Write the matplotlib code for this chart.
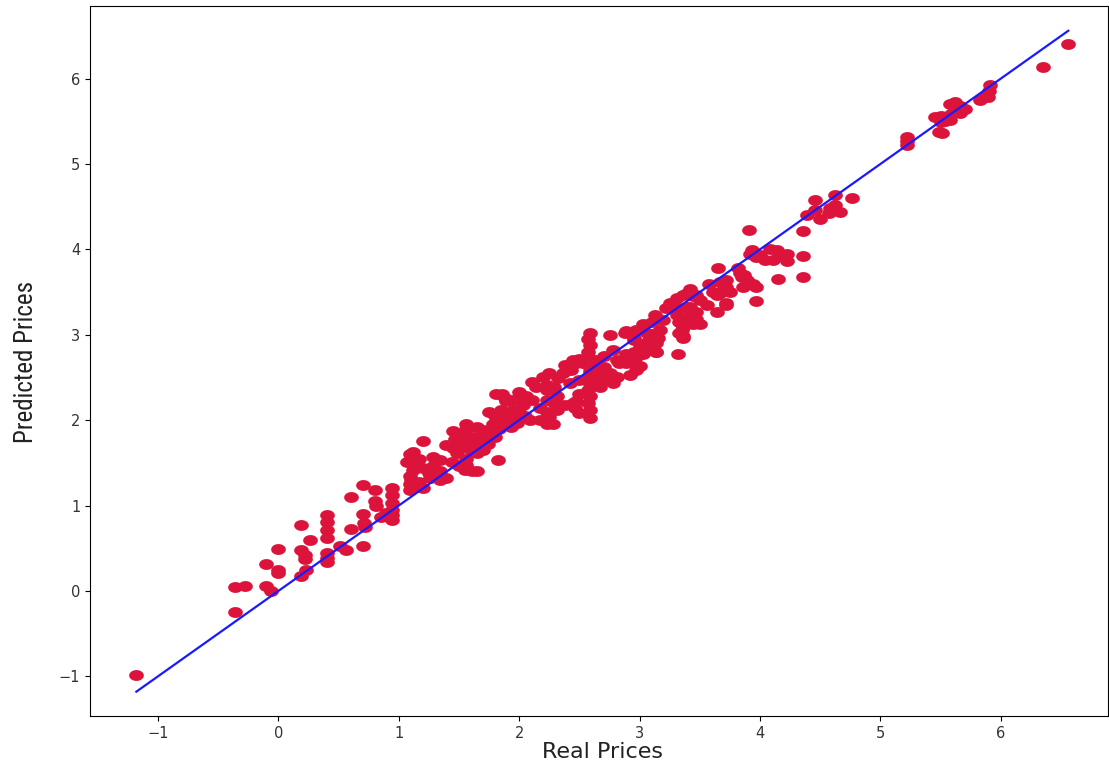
#!/usr/bin/env python3
"""Scatter of real vs predicted prices with the identity line."""

import numpy as np
import matplotlib
matplotlib.use("Agg")
import matplotlib.pyplot as plt
from matplotlib import font_manager
from matplotlib.path import Path

# values (real, predicted)
real_prices = [
    -1.18, -0.36, -0.36, -0.28, -0.10, -0.10, -0.06, 0.00, 0.00, 0.00,
    0.19, 0.19, 0.22, 0.26, 0.22, 0.19, 0.23,
    0.40, 0.40, 0.40, 0.40, 0.40, 0.40, 0.40, 0.51, 0.56, 0.60, 0.60,
    0.70, 0.70, 0.70, 0.71, 0.72, 0.80, 0.80, 0.81,
    0.94, 0.94, 0.94, 0.94, 0.94, 0.94, 0.90, 0.89, 0.85,
    1.07, 1.17, 1.28, 1.34, 1.12, 1.20, 1.28, 1.34, 1.10, 1.17, 1.26, 1.34, 1.39,
    1.13, 1.20, 1.09, 1.09, 1.09, 1.09, 1.12, 1.20, 1.25, 1.15,
    1.39, 1.45, 1.48, 1.56, 1.61, 1.65, 1.70, 1.44, 1.50, 1.55, 1.61, 1.65, 1.82,
    1.56, 1.45, 1.50, 1.65, 1.70, 1.56, 1.56, 1.56, 1.56, 1.56,
    1.81, 1.88, 2.00, 2.03,
    1.75, 1.80, 1.85, 1.90, 1.95, 2.00, 2.05, 1.78, 1.83, 1.88, 1.93, 1.98,
    1.75, 1.70, 1.74, 1.80, 1.62, 1.66, 1.52, 1.47,
    2.38, 2.43, 2.36, 2.32, 2.25, 2.20, 2.11, 2.14, 2.23, 2.29,
    2.00, 2.06, 1.95, 2.11, 2.23, 2.29, 2.38, 2.31, 2.23, 2.17,
    1.86, 1.89, 1.95, 2.00, 2.09, 2.17, 2.25, 2.28, 1.89, 1.85, 1.95,
    2.47, 2.46, 2.50, 2.50, 2.47, 2.23, 2.45, 2.53,
    2.23, 2.31, 2.34, 2.45, 2.50, 2.50, 2.42,
    2.59, 2.57, 2.59, 2.57, 2.59, 2.57, 2.59, 2.57, 2.59, 2.57, 2.59, 2.57, 2.59, 2.59,
    2.75, 2.88, 2.95, 2.78, 2.89, 2.95, 2.83, 2.97, 2.92, 2.81, 2.72,
    2.61, 2.67, 2.72, 2.78, 2.67,
    2.81, 2.89, 2.97, 3.00, 3.08, 3.14, 3.14, 3.03, 2.95,
    2.89, 2.97, 3.06, 3.14, 2.95, 3.06, 3.14, 3.00, 3.11, 3.03, 3.14,
    3.17, 3.15, 3.13, 3.03, 3.10, 3.19,
    2.70, 2.75, 2.65, 2.70, 2.64, 2.68,
    3.31, 3.25, 3.22, 3.33, 3.39, 3.31, 3.39, 3.47, 3.50, 3.33, 3.35, 3.36,
    3.32, 3.33, 3.36,
    3.72, 3.64, 3.56, 3.50, 3.47, 3.42, 3.39,
    3.58, 3.67, 3.72, 3.75, 3.67, 3.61, 3.65,
    3.83, 3.89, 3.94, 3.86, 3.82, 3.85, 3.97, 3.87,
    3.72, 3.69, 3.64, 3.72, 3.36, 3.44, 3.42, 3.47, 3.39, 3.36, 3.44,
    3.97, 3.91, 3.92, 3.97,
    3.93, 4.00, 4.04, 4.08, 4.14, 4.16, 4.22, 4.22, 4.11, 4.15,
    4.36, 4.36, 4.36, 4.46, 4.62, 4.76,
    4.39, 4.46, 4.50, 4.58, 4.62, 4.66, 4.57,
    5.22, 5.22, 5.22, 5.51, 5.49,
    5.45, 5.50, 5.54, 5.58, 5.50,
    5.58, 5.62, 5.66, 5.70, 5.62, 5.59, 5.66,
    5.83, 5.87, 5.90, 5.91, 5.89, 5.84,
    6.35, 6.56,
]
predicted_prices = [
    -0.98, -0.25, 0.05, 0.06, 0.31, 0.06, 0.00, 0.49, 0.25, 0.21,
    0.77, 0.48, 0.42, 0.60, 0.37, 0.17, 0.25,
    0.89, 0.81, 0.71, 0.62, 0.44, 0.38, 0.34, 0.53, 0.48, 1.10, 0.72,
    1.24, 0.53, 0.90, 0.80, 0.75, 1.18, 1.05, 0.99,
    1.20, 1.12, 1.03, 0.95, 0.89, 0.83, 0.88, 0.91, 0.86,
    1.51, 1.55, 1.57, 1.53, 1.42, 1.44, 1.46, 1.40, 1.30, 1.28, 1.32, 1.30, 1.32,
    1.22, 1.20, 1.60, 1.35, 1.25, 1.18, 1.63, 1.75, 1.38, 1.48,
    1.71, 1.67, 1.62, 1.69, 1.63, 1.62, 1.65, 1.51, 1.46, 1.42, 1.40, 1.40, 1.53,
    1.96, 1.87, 1.83, 1.92, 1.89, 1.90, 1.82, 1.75, 1.55, 1.48,
    2.31, 2.26, 2.26, 2.18,
    2.10, 2.05, 2.12, 2.08, 2.02, 2.10, 2.05, 1.95, 1.90, 1.98, 1.92, 1.97,
    1.85, 1.78, 1.72, 1.80, 1.80, 1.72, 1.75, 1.78,
    2.65, 2.59, 2.55, 2.49, 2.55, 2.51, 2.45, 2.39, 2.41, 2.39,
    2.33, 2.28, 2.24, 2.24, 2.24, 2.20, 2.18, 2.12, 2.10, 2.14,
    2.31, 2.22, 2.12, 2.04, 2.00, 2.00, 2.04, 1.96, 2.04, 1.96, 1.96,
    2.22, 2.14, 2.08, 2.72, 2.67, 1.96, 2.70, 2.67,
    2.35, 2.28, 2.18, 2.20, 2.31, 2.47, 2.43,
    3.02, 2.95, 2.88, 2.80, 2.72, 2.65, 2.58, 2.50, 2.42, 2.35, 2.28, 2.20, 2.12, 2.03,
    3.00, 3.02, 2.96, 2.82, 2.78, 2.70, 2.67, 2.59, 2.53, 2.51, 2.47,
    2.63, 2.59, 2.47, 2.43, 2.39,
    2.70, 2.67, 2.74, 2.63, 2.86, 2.90, 2.80, 2.88, 2.80,
    3.04, 3.06, 3.02, 3.02, 2.94, 2.92, 2.94, 2.86, 2.86, 2.78, 2.80,
    3.06, 2.96, 3.23, 3.13, 3.15, 3.17,
    2.62, 2.55, 2.70, 2.75, 2.52, 2.45,
    3.43, 3.37, 3.31, 3.31, 3.33, 3.23, 3.21, 3.19, 3.13, 3.15, 3.06, 2.98,
    2.78, 3.02, 2.96,
    3.37, 3.27, 3.35, 3.41, 3.47, 3.54, 3.49,
    3.60, 3.62, 3.56, 3.50, 3.49, 3.50, 3.78,
    3.72, 3.64, 3.60, 3.56, 3.78, 3.68, 3.56, 3.70,
    3.64, 3.52, 3.47, 3.35, 3.47, 3.45, 3.33, 3.27, 3.21, 3.09, 3.13,
    3.39, 4.23, 3.95, 3.91,
    3.99, 3.93, 3.88, 4.01, 3.99, 3.93, 3.95, 3.86, 3.88, 3.65,
    4.21, 3.92, 3.68, 4.58, 4.64, 4.60,
    4.40, 4.46, 4.36, 4.48, 4.52, 4.44, 4.42,
    5.32, 5.27, 5.22, 5.36, 5.38,
    5.55, 5.56, 5.50, 5.52, 5.49,
    5.70, 5.72, 5.68, 5.64, 5.62, 5.58, 5.60,
    5.75, 5.80, 5.86, 5.92, 5.78, 5.77,
    6.14, 6.40,
]


def is_regular(f):
    w = f.weight
    if isinstance(w, str):
        return w.lower() in ('normal', 'regular', 'book', '400')
    return 350 <= w <= 450


def pick_narrow_font():
    """Find a regular-weight condensed sans for the y label, if one is installed."""
    fonts = [f for f in font_manager.fontManager.ttflist
             if is_regular(f) and f.style == 'normal']
    names = {f.name for f in fonts}
    for name in ['Liberation Sans Narrow', 'Open Sans Condensed',
                 'Roboto Condensed', 'Noto Sans Condensed', 'DejaVu Sans Condensed']:
        if name in names:
            return dict(family=name, weight='normal'), 18
    for f in fonts:
        if f.stretch in ('condensed', 'semi-condensed') and 'Sans' in f.name:
            return dict(family=f.name, stretch=f.stretch, weight='normal'), 18
    return dict(family='DejaVu Sans'), 13


# ellipse marker, the dots in the reference are wider than tall
theta = np.linspace(0, 2 * np.pi, 41)
ellipse = Path(np.column_stack([np.cos(theta), 0.74 * np.sin(theta)]), closed=True)

real = np.array(real_prices)
pred = np.array(predicted_prices)

fig = plt.figure(figsize=(11.09, 7.69), dpi=100)
ax = fig.add_axes([90 / 1109, 1 - 716 / 769, 1018 / 1109, 710 / 769])

ax.scatter(real, pred, marker=ellipse, s=112, color='#dc143c', linewidths=0)
lo, hi = real.min(), real.max()
ax.plot([lo, hi], [lo, hi], color='#1a1aff', lw=1.6)

ax.set_xlim(-1.565, 6.89)
ax.set_ylim(-1.465, 6.85)
ax.set_xticks(range(-1, 7))
ax.set_yticks(range(-1, 7))
ax.tick_params(labelsize=10.5, labelcolor='#333333')

ax.set_xlabel('Real Prices', fontsize=16, color='#222222')
ax.xaxis.set_label_coords(0.503, -0.036)
ax.xaxis.label.set_va('top')

font_kw, font_size = pick_narrow_font()
fig.text(26 / 1109, 1 - 362 / 769, 'Predicted Prices', rotation=90,
         ha='center', va='center', fontsize=font_size, color='#222222',
         **font_kw)

fig.savefig('out.png', dpi=100)
